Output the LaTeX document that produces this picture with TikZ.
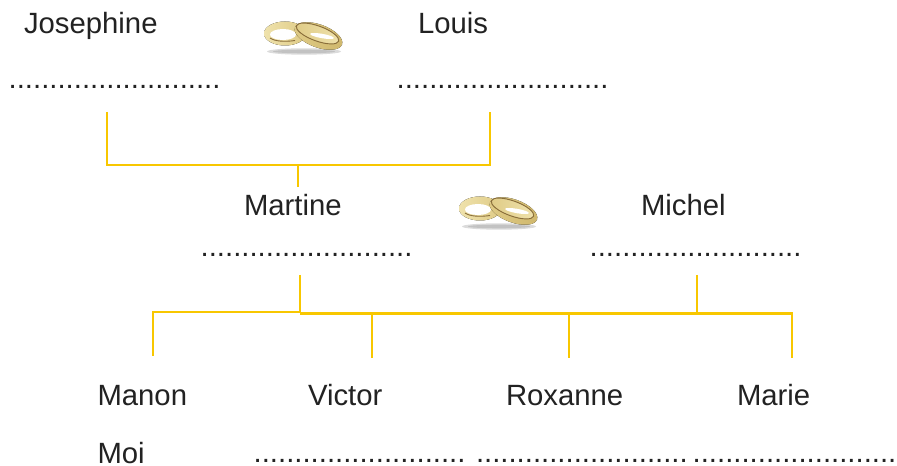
\documentclass[tikz,border=0pt]{standalone}
\usepackage{fontspec}
\setmainfont{Liberation Sans}
\definecolor{linegold}{HTML}{F8C700}
\definecolor{ink}{HTML}{222222}
\definecolor{ringlight}{HTML}{EFE2AC}
\definecolor{ringmid}{HTML}{DFCB86}
\definecolor{ringdeep}{HTML}{CFB76C}
\definecolor{ringdark}{HTML}{8A6E3A}
\tikzset{
  x=1bp,y=-1bp,
  lbl/.style={anchor=base west,inner sep=0pt,outer sep=0pt,text=ink,font=\fontsize{29.3bp}{29.3bp}\selectfont},
  link/.style={draw=linegold,line width=2.4bp,line join=miter},
  pics/rings/.style={code={
    \fill[black!14] (1,14.5) ellipse [x radius=37,y radius=3.2];
    \fill[black!24] (1,14.5) ellipse [x radius=31,y radius=1.8];
    % left ring
    \fill[left color=ringlight,right color=ringmid] (-18,-3.5) ellipse [x radius=21,y radius=12];
    \fill[white] (-20,-2.5) ellipse [x radius=13,y radius=5.5];
    \draw[ringdark,line width=.9bp] (-33,1) .. controls (-28,4.5) and (-18,5) .. (-8,3.5);
    % right ring
    \fill[left color=ringmid,right color=ringdeep] (15.5,-1) ellipse [x radius=25,y radius=11.5,rotate=-20];
    \fill[left color=ringmid,right color=ringlight] (14.5,-3.5) ellipse [x radius=22.5,y radius=7.5,rotate=-20];
    \fill[white] (19,-1) ellipse [x radius=12,y radius=2.2,rotate=-10];
    \draw[ringdark,line width=.9bp] (14.5,-3.5) ellipse [x radius=22.5,y radius=7.5,rotate=-20];
  }}
}
\begin{document}
\begin{tikzpicture}
\useasboundingbox (0,0) rectangle (897,466);
\fill[white] (0,0) rectangle (897,466);

\node[lbl] (josephine) at (24,34) {Josephine};
\node[lbl] (louis) at (418,34) {Louis};
\node[lbl] (dotsa) at (8.7,88.5) {..........................};
\node[lbl] (dotsb) at (396.7,88.5) {..........................};
\node[lbl] (martine) at (244,215.5) {Martine};
\node[lbl] (michel) at (641,215.5) {Michel};
\node[lbl] (dotsc) at (200.7,256.5) {..........................};
\node[lbl] (dotsd) at (589.7,256.5) {..........................};
\node[lbl] (manon) at (97.5,405.5) {Manon};
\node[lbl] (victor) at (308,405.5) {Victor};
\node[lbl] (roxanne) at (506,405.5) {Roxanne};
\node[lbl] (marie) at (737,405.5) {Marie};
\node[lbl] (moi) at (97.5,463) {Moi};
\node[lbl] (dotse) at (253.7,462.5) {..........................};
\node[lbl] (dotsf) at (476,462.5) {..........................};
\node[lbl] (dotsg) at (692.7,462.5) {..........................};

\pic at (303,37) {rings};
\pic at (498,212) {rings};

\coordinate (pa) at (107,112);
\coordinate (pb) at (490,112);
\coordinate (pc) at (298,165);
\coordinate (pd) at (298,187);
\draw[link] (pa) |- (pb |- pc) -- (pb);
\draw[link] (pc) -- (pd);

\coordinate (ca) at (300,275);
\coordinate (cb) at (697,275);
\coordinate (ja) at (300,313.5);
\coordinate (ma) at (300,312.3);
\coordinate (k1) at (153,356);
\coordinate (k2) at (372,358);
\coordinate (k3) at (569,358);
\coordinate (k4) at (792,358);
\draw[link] (ca) -- (ja);
\draw[link] (k1) |- (ma);
\draw[link] (ja) -| (k4);
\draw[link] (cb) -- (cb |- ja);
\draw[link] (k2) -- (k2 |- ja);
\draw[link] (k3) -- (k3 |- ja);
\end{tikzpicture}
\end{document}
